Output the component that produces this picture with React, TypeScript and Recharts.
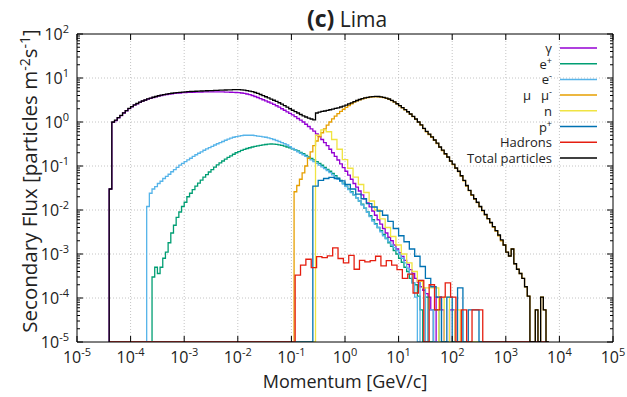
import React from "react";
import { LineChart, Line, XAxis, YAxis, ReferenceLine } from "recharts";

// histogram range in decades; empty bins (0) sit on the bottom edge
const HIST_MIN = -4.4;
const HIST_MAX = 3.8;
const FLOOR = 1e-5;
const FINE = 0.05;
const COARSE = 0.1;

const xMajor = [1e-5, 1e-4, 1e-3, 1e-2, 1e-1, 1, 10, 100, 1e3, 1e4, 1e5];
const yMajor = [1e-5, 1e-4, 1e-3, 1e-2, 1e-1, 1, 10, 100];
const yMinor = yMajor.slice(0, -1).flatMap((d) => [2, 3, 4, 5, 6, 7, 8, 9].map((m) => m * d));

const gammaStart = -4.4;
const gammaFlux = [
  0.03, 0.98, 1.08, 1.24, 1.39, 1.6, 1.8, 2.02, 2.22, 2.42,
  2.6, 2.79, 2.97, 3.13, 3.31, 3.46, 3.6, 3.74, 3.88, 4.0,
  4.12, 4.22, 4.31, 4.39, 4.45, 4.52, 4.56, 4.63, 4.67, 4.7,
  4.72, 4.74, 4.77, 4.78, 4.8, 4.82, 4.83, 4.84, 4.85, 4.85,
  4.85, 4.84, 4.82, 4.8, 4.77, 4.74, 4.71, 4.68, 4.64, 4.56,
  4.47, 4.33, 4.17, 4.0, 3.8, 3.6, 3.39, 3.2, 3.02, 2.85,
  2.69, 2.52, 2.34, 2.17, 2.0, 1.85, 1.7, 1.57, 1.45, 1.32,
  1.2, 1.1, 1.0, 0.89, 0.79, 0.7, 0.62, 0.54, 0.47, 0.4,
  0.34, 0.29, 0.24, 0.2, 0.166, 0.137, 0.112, 0.092, 0.076, 0.062,
  0.05, 0.04, 0.033, 0.027, 0.022, 0.018, 0.0145, 0.0118, 0.0095, 0.0076,
  0.006, 0.0048, 0.0038, 0.003, 0.0024, 0.002, 0.0016, 0.0013, 0.00107, 0.00088,
  0.00072, 0.00058, 0.00044, 0.00036, 0.00028, 0.00023, 0.00018, 0.00015, 0.000126, 0.000105,
  5.4e-5, 0, 1.05e-4, 1.05e-4, 5.4e-5, 0, 0, 5.4e-5, 5.4e-5,
];

const positronStart = -3.6;
const positronFlux = [
  0.0003, 0.0005, 0.00036, 0.0005, 0.0008, 0.0011, 0.0018, 0.003, 0.0045, 0.0068,
  0.009, 0.012, 0.015, 0.02, 0.024, 0.029, 0.035, 0.041, 0.048, 0.056,
  0.064, 0.073, 0.083, 0.094, 0.106, 0.118, 0.13, 0.143, 0.157, 0.17,
  0.185, 0.2, 0.213, 0.226, 0.238, 0.25, 0.26, 0.27, 0.28, 0.288,
  0.295, 0.302, 0.308, 0.313, 0.316, 0.315, 0.31, 0.303, 0.295, 0.283,
  0.27, 0.258, 0.245, 0.232, 0.22, 0.205, 0.19, 0.175, 0.16, 0.148,
  0.138, 0.126, 0.115, 0.104, 0.093, 0.084, 0.076, 0.068, 0.06, 0.053,
  0.047, 0.041, 0.035, 0.03, 0.026, 0.022, 0.019, 0.016, 0.0135, 0.011,
  0.0091, 0.0074, 0.006, 0.0049, 0.004, 0.0034, 0.0028, 0.0023, 0.0018, 0.0015,
  0.0012, 0.001, 0.0008, 0.00065, 0.0005, 0.0004, 0.00028, 0.00022, 0.0002, 0.00011,
  5.4e-5, 0, 1.05e-4, 0, 0, 5.4e-5, 5.4e-5,
];

const electronStart = -3.7;
const electronFlux = [
  0.012, 0.024, 0.03, 0.034, 0.04, 0.045, 0.052, 0.058, 0.065, 0.074,
  0.083, 0.093, 0.105, 0.115, 0.126, 0.138, 0.15, 0.165, 0.18, 0.195,
  0.21, 0.228, 0.245, 0.262, 0.28, 0.3, 0.32, 0.34, 0.36, 0.385,
  0.41, 0.43, 0.45, 0.465, 0.48, 0.49, 0.5, 0.5, 0.5, 0.5,
  0.49, 0.48, 0.47, 0.46, 0.45, 0.435, 0.42, 0.4, 0.38, 0.36,
  0.34, 0.32, 0.3, 0.275, 0.25, 0.23, 0.21, 0.195, 0.18, 0.165,
  0.15, 0.138, 0.126, 0.115, 0.105, 0.096, 0.087, 0.079, 0.071, 0.063,
  0.056, 0.05, 0.045, 0.039, 0.034, 0.029, 0.025, 0.022, 0.019, 0.016,
  0.013, 0.011, 0.0089, 0.0071, 0.0056, 0.0047, 0.004, 0.0032, 0.0026, 0.0022,
  0.0019, 0.0016, 0.0014, 0.0012, 0.001, 0.0008, 0.00063, 0.00048, 0.00035, 0.00022,
  0.000105, 0, 0.00025, 0.00017, 0, 5.4e-5, 5.4e-5, 0, 0, 5.4e-5,
];

const muonStart = -0.95;
const muonFlux = [
  0.026, 0.036, 0.05, 0.07, 0.1, 0.15, 0.21, 0.29, 0.37, 0.46,
  0.57, 0.7, 0.85, 1.0, 1.18, 1.36, 1.55, 1.75, 1.95, 2.15,
  2.37, 2.6, 2.82, 3.02, 3.2, 3.36, 3.48, 3.58, 3.66, 3.72,
  3.75, 3.74, 3.68, 3.58, 3.45, 3.28, 3.06, 2.82, 2.57, 2.33,
  2.1, 1.9, 1.69, 1.5, 1.32, 1.15, 0.99, 0.85, 0.71, 0.6,
  0.52, 0.45, 0.385, 0.325, 0.265, 0.225, 0.187, 0.157, 0.128, 0.108,
  0.088, 0.075, 0.059, 0.046, 0.035, 0.0275, 0.0216, 0.0177, 0.0147, 0.0118,
  0.0096, 0.0078, 0.0063, 0.0051, 0.0041, 0.0033, 0.0026, 0.002, 0.0016, 0.0011,
  0.0009, 0.0013, 0.0006, 0.00045, 0.00036, 0.00028, 0.00018, 0.00011, 0, 0,
  5.4e-5, 0, 1.05e-4, 5.4e-5,
];

const neutronStart = -0.55;
const neutronFlux = [
  0.5, 0.66, 0.6, 0.4, 0.24, 0.14, 0.089, 0.056, 0.038, 0.025,
  0.016, 0.01, 0.0063, 0.004, 0.0025, 0.0016, 0.001, 0.00063, 0.0004, 0.00024,
  0.00017, 0.00017, 0.00017, 0, 0.000105, 0, 5.4e-5,
];

const protonStart = -0.6;
const protonFlux = [
  0.035, 0.047, 0.052, 0.055, 0.052, 0.046, 0.038, 0.03, 0.023, 0.018,
  0.014, 0.0117, 0.0095, 0.0076, 0.0055, 0.0038, 0.0026, 0.0019, 0.0013, 0.00089,
  0.00052, 0.00028, 0.00018, 0.000105, 0, 0.000105, 0, 0.00017, 0, 5.4e-5,
  5.4e-5,
];

const hadronStart = -0.93;
const hadronFlux = [
  3.3e-4, 5.6e-4, 7.6e-4, 4.9e-4, 8.7e-4, 8.3e-4, 9.1e-4, 1.38e-3, 7.9e-4, 6.3e-4,
  9.3e-4, 4.5e-4, 7.2e-4, 6.6e-4, 7.1e-4, 8.9e-4, 5.4e-4, 7.1e-4, 5.6e-4, 4.4e-4,
  2.8e-4, 3.5e-4, 1.3e-4, 2.5e-4, 0, 2e-4, 5.4e-5, 1.05e-4, 2.2e-4, 1.05e-4,
  0, 5.4e-5, 0, 5.4e-5, 5.4e-5,
];

const totalStart = -4.4;
const totalFlux = [
  0.03, 1.0, 1.1, 1.26, 1.41, 1.62, 1.82, 2.04, 2.24, 2.45,
  2.63, 2.82, 3.0, 3.16, 3.35, 3.5, 3.65, 3.8, 3.95, 4.07,
  4.2, 4.3, 4.4, 4.5, 4.57, 4.65, 4.7, 4.8, 4.85, 4.9,
  4.93, 4.96, 5.0, 5.03, 5.06, 5.1, 5.13, 5.16, 5.19, 5.22,
  5.25, 5.28, 5.31, 5.34, 5.37, 5.4, 5.43, 5.43, 5.43, 5.4,
  5.3, 5.18, 5.05, 4.88, 4.68, 4.45, 4.22, 3.98, 3.75, 3.52,
  3.31, 3.12, 2.93, 2.74, 2.55, 2.36, 2.18, 2.0, 1.85, 1.72,
  1.6, 1.48, 1.38, 1.3, 1.23, 1.17, 1.12, 1.6, 1.68, 1.74,
  1.78, 1.84, 1.9, 1.96, 2.03, 2.1, 2.19, 2.3, 2.42, 2.57,
  2.73, 2.9, 3.08, 3.25, 3.4, 3.52, 3.63, 3.72, 3.78, 3.81,
  3.8, 3.74, 3.64, 3.5, 3.33, 3.1, 2.86, 2.6, 2.36, 2.13,
  1.92, 1.71, 1.52, 1.34, 1.17, 1.0, 0.86, 0.72, 0.61, 0.53,
  0.46, 0.39, 0.33, 0.27, 0.23, 0.19, 0.16, 0.13, 0.11, 0.09,
  0.076, 0.06, 0.047, 0.036, 0.028, 0.022, 0.018, 0.015, 0.012, 0.0098,
  0.0079, 0.0064, 0.0052, 0.0042, 0.0034, 0.0027, 0.0021, 0.0016, 0.0011, 0.0009,
  0.0013, 0.0006, 0.00045, 0.00036, 0.00028, 0.00018, 0.00011, 0, 0, 5.4e-5,
  0, 1.05e-4, 5.4e-5,
];

// turn bin contents into step points (left edges), closed down to the floor
const toSteps = (start: number, width: number, values: number[]) => {
  const pts = [{ x: 10 ** HIST_MIN, y: FLOOR }, { x: 10 ** start, y: FLOOR }];
  values.forEach((v, i) => pts.push({ x: 10 ** (start + i * width), y: v > 0 ? v : FLOOR }));
  pts.push({ x: 10 ** (start + values.length * width), y: FLOOR });
  pts.push({ x: 10 ** HIST_MAX, y: FLOOR });
  return pts;
};

const series = [
  { key: "gamma", label: "γ", sup: "", color: "#9400d3", data: toSteps(gammaStart, FINE, gammaFlux) },
  { key: "positron", label: "e", sup: "+", color: "#009e73", data: toSteps(positronStart, FINE, positronFlux) },
  { key: "electron", label: "e", sup: "-", color: "#56b4e9", data: toSteps(electronStart, FINE, electronFlux) },
  { key: "muon", label: "μ\u00a0\u00a0\u00a0μ", sup: "-", color: "#e69f00", data: toSteps(muonStart, FINE, muonFlux) },
  { key: "neutron", label: "n", sup: "", color: "#f0e442", data: toSteps(neutronStart, COARSE, neutronFlux) },
  { key: "proton", label: "p", sup: "+", color: "#0072b2", data: toSteps(protonStart, COARSE, protonFlux) },
  { key: "hadron", label: "Hadrons", sup: "", color: "#e51e10", data: toSteps(hadronStart, COARSE, hadronFlux) },
  { key: "total", label: "Total particles", sup: "", color: "#000000", data: toSteps(totalStart, FINE, totalFlux) },
];

const FONT = "'Open Sans', sans-serif";
const expOf = (v: number) => Math.round(Math.log10(v));
const isMajor = (v: number) => Math.abs(Math.log10(v) - expOf(v)) < 1e-6;

const Pow = ({ v }: { v: number }) => (
  <>
    <tspan>10</tspan>
    <tspan dy={-7} fontSize={11}>{expOf(v)}</tspan>
  </>
);

const BottomTick = ({ x, y, payload }: any) => (
  <g>
    <line x1={x} y1={y} x2={x} y2={y - 6} stroke="#000" />
    <text x={x} y={y + 21} textAnchor="middle" fontFamily={FONT} fontSize={16} fill="#222">
      <Pow v={payload.value} />
    </text>
  </g>
);

const TopTick = ({ x, y }: any) => <line x1={x} y1={y} x2={x} y2={y + 6} stroke="#000" />;

const LeftTick = ({ x, y, payload }: any) => {
  const major = isMajor(payload.value);
  return (
    <g>
      <line x1={x} y1={y} x2={x + (major ? 6 : 3)} y2={y} stroke="#000" />
      {major && (
        <text x={x - 8} y={y + 6} textAnchor="end" fontFamily={FONT} fontSize={16} fill="#222">
          <Pow v={payload.value} />
        </text>
      )}
    </g>
  );
};

const RightTick = ({ x, y, payload }: any) => {
  const major = isMajor(payload.value);
  return <line x1={x} y1={y} x2={x - (major ? 6 : 3)} y2={y} stroke="#000" />;
};

const App = () => {
  const logX = { type: "number" as const, scale: "log" as const, domain: [1e-5, 1e5], ticks: xMajor, allowDataOverflow: true, interval: 0 as const, height: 1, tickSize: 0, tickMargin: 0, tickLine: false, axisLine: { stroke: "#000" } };
  const logY = { type: "number" as const, scale: "log" as const, domain: [1e-5, 100], ticks: [...yMajor, ...yMinor], allowDataOverflow: true, interval: 0 as const, width: 1, tickSize: 0, tickMargin: 0, tickLine: false, axisLine: { stroke: "#000" } };

  return (
    <div style={{ position: "absolute", left: 0, top: 0, width: 627, height: 397, background: "#fff" }}>
      <LineChart width={627} height={397} margin={{ top: 33, right: 13, bottom: 54, left: 76 }}>
        <XAxis dataKey="x" {...logX} tick={(p: any) => <BottomTick {...p} />} />
        <XAxis xAxisId="top" orientation="top" dataKey="x" {...logX} tick={(p: any) => <TopTick {...p} />} />
        <YAxis {...logY} tick={(p: any) => <LeftTick {...p} />} />
        <YAxis yAxisId="right" orientation="right" {...logY} tick={(p: any) => <RightTick {...p} />} />
        {xMajor.slice(1, -1).map((v) => (
          <ReferenceLine key={"gx" + v} x={v} stroke="#c4c4c4" strokeDasharray="1 2" />
        ))}
        {yMajor.slice(1, -1).map((v) => (
          <ReferenceLine key={"gy" + v} y={v} stroke="#c4c4c4" strokeDasharray="1 2" />
        ))}
        {series.map((s) => (
          <Line
            key={s.key}
            data={s.data}
            dataKey="y"
            type="stepAfter"
            stroke={s.color}
            strokeWidth={1.3}
            dot={false}
            activeDot={false}
            isAnimationActive={false}
          />
        ))}
      </LineChart>
      <svg width={627} height={397} style={{ position: "absolute", left: 0, top: 0, pointerEvents: "none" }} fontFamily={FONT} fill="#222">
        <text x={347} y={27} textAnchor="middle" fontSize={21}>
          <tspan fontWeight="bold" fontSize={23}>(c)</tspan> Lima
        </text>
        <text x={345} y={388} textAnchor="middle" fontSize={18}>Momentum [GeV/c]</text>
        <text transform="translate(37,181) rotate(-90)" textAnchor="middle" fontSize={20.5}>
          Secondary Flux [particles m<tspan dy={-7} fontSize={14}>-2</tspan>
          <tspan dy={7}>s</tspan>
          <tspan dy={-7} fontSize={14}>-1</tspan>
          <tspan dy={7}>]</tspan>
        </text>
        {series.map((s, i) => {
          const cy = 48 + i * 15.7;
          return (
            <g key={"lg" + s.key}>
              <text x={552} y={cy + 5} textAnchor="end" fontSize={13}>
                {s.label}
                {s.sup && (
                  <tspan dy={-5} fontSize={9}>{s.sup}</tspan>
                )}
              </text>
              <line x1={560} y1={cy} x2={597} y2={cy} stroke={s.color} strokeWidth={1.5} />
            </g>
          );
        })}
      </svg>
    </div>
  );
};

export default App;
